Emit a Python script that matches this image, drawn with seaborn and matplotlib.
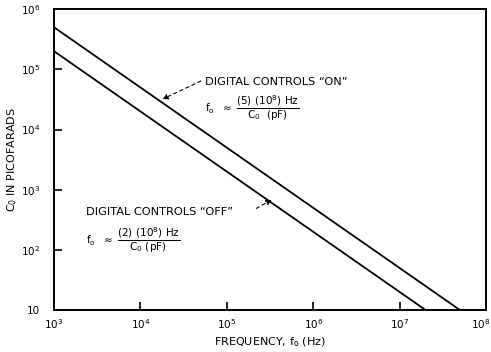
import matplotlib
matplotlib.use("Agg")
import matplotlib.pyplot as plt
import matplotlib.transforms as mtransforms
import numpy as np
import pandas as pd
import seaborn as sns

# endpoints of the two straight lines (log-log)
freq_on = [1e3, 5e7]
cap_on = [5e5, 10]
freq_off = [1e3, 2e7]
cap_off = [2e5, 10]

x_ticks = [1e3, 1e4, 1e5, 1e6, 1e7, 1e8]
x_labels = ["$10^3$", "$10^4$", "$10^5$", "$10^6$", "$10^7$", "$10^8$"]
y_ticks = [10, 1e2, 1e3, 1e4, 1e5, 1e6]
y_labels = ["10", "$10^2$", "$10^3$", "$10^4$", "$10^5$", "$10^6$"]

df = pd.concat([
    pd.DataFrame({"f": freq_on, "c": cap_on, "mode": "on"}),
    pd.DataFrame({"f": freq_off, "c": cap_off, "mode": "off"}),
])

sns.set_style("ticks")
plt.rcParams["font.family"] = ["DejaVu Sans"]
plt.rcParams["mathtext.fontset"] = "dejavusans"
plt.rcParams["text.color"] = "black"
plt.rcParams["axes.labelcolor"] = "black"

fig = plt.figure(figsize=(4.91, 3.52), dpi=100)
ax = fig.add_axes([0.110, 0.119, 0.880, 0.855])
sns.lineplot(data=df, x="f", y="c", units="mode", estimator=None,
             color="black", lw=1.3, ax=ax, legend=False)
ax.set_xscale("log")
ax.set_yscale("log")
ax.set_xlim(1e3, 1e8)
ax.set_ylim(10, 1e6)
ax.set_xticks(x_ticks, x_labels)
ax.set_yticks(y_ticks, y_labels)
ax.minorticks_off()
ax.tick_params(direction="in", length=6, width=1.2, labelsize=7.5, colors="black")
ax.tick_params(axis="x", pad=5)
ax.tick_params(axis="y", pad=10)
# keep the last x label inside the figure
last = ax.get_xticklabels()[-1]
last.set_transform(last.get_transform() + mtransforms.ScaledTranslation(-4 / 72, 0, fig.dpi_scale_trans))
for s in ax.spines.values():
    s.set_linewidth(1.4)
    s.set_color("black")

ax.set_xlabel("FREQUENCY, f$_\\mathrm{o}$ (Hz)", fontsize=8, labelpad=3)
ax.set_ylabel("C$_0$ IN PICOFARADS", fontsize=8, labelpad=1)

arrow = dict(arrowstyle="-|>", ls=(0, (3, 3)), lw=0.8, color="black",
             shrinkA=0, shrinkB=0, mutation_scale=8)

# "ON" annotation
ax.text(5.6e4, 6.2e4, "DIGITAL CONTROLS \u201cON\u201d", fontsize=8.2, va="center", ha="left")
ax.annotate("", xy=(1.8e4, 3.2e4), xytext=(5.0e4, 6.4e4), arrowprops=arrow)
ax.text(5.6e4, 2.2e4,
        r"$\mathrm{f_o\ \ \approx\ \dfrac{(5)\ (10^8)\ Hz}{C_0\ \ (pF)}}$",
        fontsize=7.5, va="center", ha="left")

# "OFF" annotation
ax.text(2.35e3, 4.3e2, "DIGITAL CONTROLS \u201cOFF\u201d", fontsize=8.2, va="center", ha="left")
ax.annotate("", xy=(3.3e5, 6.8e2), xytext=(2.2e5, 4.9e2), arrowprops=arrow)
ax.text(2.35e3, 1.45e2,
        r"$\mathrm{f_o\ \ \approx\ \dfrac{(2)\ (10^8)\ Hz}{C_0\ (pF)}}$",
        fontsize=7.5, va="center", ha="left")

fig.savefig("out.png", dpi=100)
